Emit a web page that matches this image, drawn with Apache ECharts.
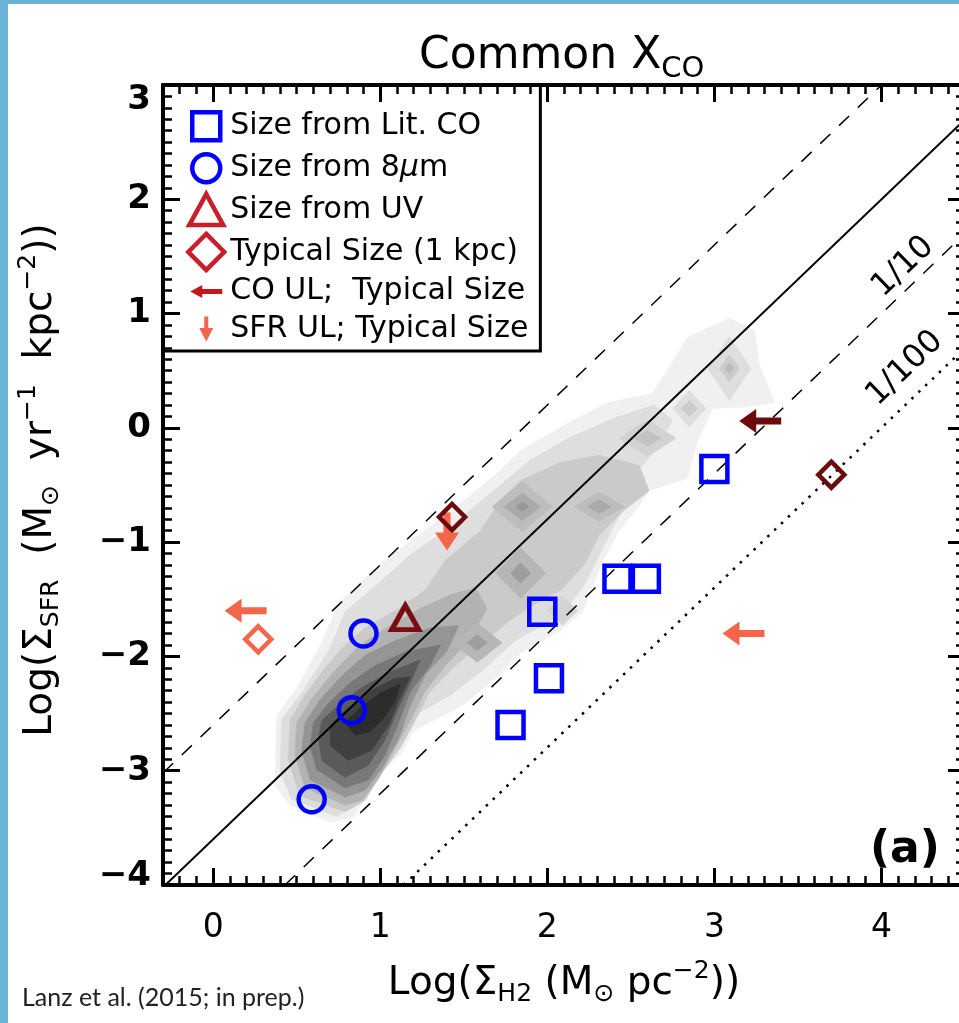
<!DOCTYPE html>
<html>
<head>
<meta charset="utf-8">
<title>Common XCO</title>
<script src="https://cdn.jsdelivr.net/npm/echarts@6/dist/echarts.min.js"></script>
<style>
  html, body { margin: 0; padding: 0; background: #fff; }
  #chart { width: 959px; height: 1023px; }
</style>
</head>
<body>
<div id="chart"></div>
<script>
// ---- data (log units) ----
const xMajorTicks = [0, 1, 2, 3, 4];
const yMajorTicks = [-4, -3, -2, -1, 0, 1, 2, 3];

const litCO = [[3.00, -0.36], [2.42, -1.32], [2.59, -1.32], [1.97, -1.61], [2.01, -2.19], [1.78, -2.60]];
const size8um = [[0.90, -1.80], [0.83, -2.47], [0.59, -3.25]];
const sizeUV = [[1.15, -1.66]];
// third field: colour class of the point
const typicalSize = [[1.43, -0.78, 'dark'], [3.70, -0.41, 'dark'], [0.27, -1.85, 'light']];
const coUpperLimits = [[0.32, -1.60, 'light'], [3.30, -1.80, 'light'], [3.40, 0.06, 'dark']];
const sfrUpperLimits = [[1.40, -0.74, 'light']];

// Kennicutt-Schmidt relation and x10, 1/10, 1/100 offsets
const ksLine = [[-0.3, -4.02], [4.5, 2.70]];
const ksTimes10 = [[-0.3, -3.02], [4.0, 3.00]];
const ksTenth = [[0.43, -4.00], [4.5, 1.70]];
const ksHundredth = [[1.14, -4.00], [4.5, 0.70]];

const ratioLabels = [['1/10', 4.13, 1.41], ['1/100', 4.14, 0.52]];
const panelLabel = [['(a)', 4.14, -3.70]];

// comparison sample density, filled contour levels (outer to inner)
const contourLevels = [
  [[0.70,-3.45],[0.46,-3.30],[0.37,-3.13],[0.38,-2.52],[0.50,-2.28],[0.65,-1.88],[0.75,-1.54],[0.94,-1.27],[1.08,-1.10],[1.32,-0.84],[1.54,-0.59],[1.70,-0.40],[1.84,-0.20],[2.12,0.04],[2.36,0.22],[2.63,0.30],[2.84,0.79],[3.09,0.96],[3.24,0.85],[3.27,0.55],[3.36,0.22],[3.18,0.18],[2.99,0.17],[2.90,-0.11],[2.84,-0.44],[2.61,-0.55],[2.55,-0.68],[2.43,-0.90],[2.32,-1.20],[2.21,-1.61],[2.08,-1.77],[1.84,-1.97],[1.68,-2.21],[1.48,-2.44],[1.20,-2.65],[1.13,-2.84],[1.00,-3.02],[0.90,-3.26],[0.84,-3.41]],
  [[0.74,-3.40],[0.47,-3.25],[0.40,-3.00],[0.41,-2.55],[0.53,-2.32],[0.70,-1.93],[0.79,-1.61],[0.99,-1.36],[1.18,-1.11],[1.39,-0.90],[1.72,-0.50],[1.90,-0.28],[2.14,-0.08],[2.39,0.08],[2.64,0.20],[2.75,0.07],[2.67,-0.15],[2.55,-0.37],[2.46,-0.68],[2.34,-1.03],[2.22,-1.38],[2.08,-1.64],[1.81,-1.86],[1.63,-2.10],[1.42,-2.34],[1.15,-2.56],[1.07,-2.78],[0.94,-2.95],[0.86,-3.30]],
  [[0.79,-3.36],[0.52,-3.22],[0.45,-2.91],[0.46,-2.56],[0.55,-2.34],[0.67,-2.10],[0.79,-1.90],[0.91,-1.75],[1.09,-1.60],[1.27,-1.42],[1.39,-1.16],[1.60,-0.90],[1.72,-0.63],[1.84,-0.46],[2.08,-0.30],[2.31,-0.24],[2.55,-0.33],[2.61,-0.55],[2.46,-0.72],[2.31,-0.94],[2.22,-1.20],[2.08,-1.42],[1.96,-1.51],[1.78,-1.68],[1.63,-1.86],[1.45,-2.08],[1.30,-2.30],[1.21,-2.56],[1.12,-2.80],[1.00,-3.04],[0.91,-3.26]],
  [[0.79,-3.30],[0.55,-3.15],[0.49,-2.86],[0.50,-2.58],[0.59,-2.37],[0.73,-2.12],[0.88,-1.90],[1.06,-1.73],[1.24,-1.58],[1.42,-1.46],[1.57,-1.40],[1.64,-1.58],[1.53,-1.86],[1.39,-2.08],[1.27,-2.30],[1.18,-2.56],[1.09,-2.80],[0.99,-3.07],[0.89,-3.26]],
  [[0.79,-3.23],[0.58,-3.08],[0.53,-2.82],[0.55,-2.58],[0.64,-2.38],[0.77,-2.17],[0.91,-1.99],[1.09,-1.86],[1.30,-1.75],[1.47,-1.73],[1.40,-1.95],[1.27,-2.16],[1.18,-2.43],[1.11,-2.72],[1.01,-2.98],[0.91,-3.17]],
  [[0.79,-3.15],[0.62,-2.99],[0.58,-2.78],[0.60,-2.58],[0.69,-2.41],[0.82,-2.23],[0.97,-2.08],[1.15,-1.96],[1.36,-1.90],[1.29,-2.10],[1.18,-2.31],[1.11,-2.58],[1.03,-2.86],[0.93,-3.08]],
  [[0.79,-3.06],[0.65,-2.91],[0.63,-2.72],[0.65,-2.56],[0.75,-2.43],[0.88,-2.28],[1.05,-2.14],[1.24,-2.03],[1.18,-2.23],[1.11,-2.45],[1.03,-2.73],[0.93,-2.95]],
  [[0.81,-2.91],[0.70,-2.78],[0.70,-2.60],[0.79,-2.47],[0.93,-2.31],[1.09,-2.19],[1.18,-2.18],[1.12,-2.36],[1.05,-2.60],[0.95,-2.82]],
  [[0.85,-2.69],[0.79,-2.58],[0.88,-2.45],[1.00,-2.32],[1.12,-2.24],[1.09,-2.39],[1.02,-2.54],[0.94,-2.66]]
];
// local density peaks: [x, y, half width, half height]
const densityPeaks = [
  [3.09, 0.52, 0.13, 0.28], [3.09, 0.52, 0.06, 0.12], [3.09, 0.52, 0.025, 0.05],
  [2.85, 0.17, 0.10, 0.16], [2.85, 0.17, 0.05, 0.07],
  [2.60, -0.09, 0.17, 0.16], [2.60, -0.09, 0.08, 0.07],
  [1.85, -0.69, 0.18, 0.22], [1.85, -0.69, 0.11, 0.12], [1.85, -0.69, 0.04, 0.045],
  [2.31, -0.69, 0.15, 0.13], [2.31, -0.69, 0.07, 0.06],
  [1.84, -1.27, 0.15, 0.22], [1.84, -1.27, 0.06, 0.09],
  [1.58, -1.88, 0.15, 0.17], [1.58, -1.88, 0.06, 0.07],
  [2.09, -1.60, 0.09, 0.13]
];

// ---- styles ----
const FONT = '"DejaVu Sans", sans-serif';
const BLUE = '#0000ff';
const LEGEND_RED = '#c8202a';
const pointColor = { dark: '#6c0a0c', light: '#f4664a' };
const contourFills = ['#f0f0f0', '#dedede', '#cacaca', '#b2b2b2', '#959595', '#787878', '#5a5a5a', '#404040', '#2c2c2c'];
const peakFills = ['#dedede', '#cccccc', '#bcbcbc', '#dedede', '#cccccc', '#d2d2d2', '#c2c2c2',
  '#bdbdbd', '#aaaaaa', '#999999', '#bdbdbd', '#aaaaaa', '#b6b6b6', '#9e9e9e', '#b6b6b6', '#9e9e9e', '#d4d4d4'];

const LEFT_ARROW = 'path://M0 12L17 0L17 8.5L42 8.5L42 15.5L17 15.5L17 24Z';
const DOWN_ARROW = 'path://M12 38L0 20L8.5 20L8.5 0L15.5 0L15.5 20L24 20Z';

function minorValues(lo, hi) {
  const out = [];
  for (let i = Math.round(lo * 10); i <= Math.round(hi * 10); i++) out.push(i / 10);
  return out;
}
const xMinor = minorValues(-0.3, 4.5);
const yMinor = minorValues(-4, 3);

const richScript = {
  sub: { fontSize: 25, fontFamily: FONT, padding: [22, 0, 0, 0] },
  sup: { fontSize: 25, fontFamily: FONT, padding: [0, 0, 24, 0] }
};

function axisSet(dim, position, majors, minors, withLabels) {
  const range = dim === 'x' ? { min: -0.3, max: 4.5 } : { min: -4, max: 3 };
  const base = Object.assign({ type: 'value', gridIndex: 0, position, splitLine: { show: false } }, range);
  const major = Object.assign({}, base, {
    axisLine: { show: true, onZero: false, lineStyle: { color: '#000', width: 4 } },
    axisTick: { show: true, inside: true, length: 17, customValues: majors, lineStyle: { color: '#000', width: 3 } },
    axisLabel: { show: false }
  });
  const minor = Object.assign({}, base, {
    axisLine: { show: false, onZero: false },
    axisTick: { show: true, inside: true, length: 9, customValues: minors, lineStyle: { color: '#000', width: 2.5 } },
    axisLabel: { show: false }
  });
  if (withLabels) {
    major.axisLabel = dim === 'x'
      ? { show: true, customValues: majors, margin: 27, fontSize: 33, color: '#000', fontFamily: FONT }
      : {
          show: true, customValues: majors, margin: 12, fontSize: 34, fontWeight: 'bold', color: '#000', fontFamily: FONT,
          formatter: v => {
            const t = v < 0 ? '\u2212' + Math.abs(v) : String(v);
            if (v === 3) return '{top|' + t + '}';
            if (v === -4) return '{bot|' + t + '}';
            return t;
          },
          rich: {
            top: { fontSize: 34, fontWeight: 'bold', fontFamily: FONT, padding: [30, 0, 0, 0] },
            bot: { fontSize: 34, fontWeight: 'bold', fontFamily: FONT, padding: [0, 0, 18, 0] }
          }
        };
  }
  return [major, minor];
}

const xAxes = axisSet('x', 'bottom', xMajorTicks, xMinor, true).concat(axisSet('x', 'top', xMajorTicks, xMinor, false));
const yAxes = axisSet('y', 'left', yMajorTicks, yMinor, true).concat(axisSet('y', 'right', yMajorTicks, yMinor, false));

Object.assign(xAxes[0], {
  name: 'Log(\u03a3{sub|H2} (M{sub|\u2299} pc{sup|\u22122}))',
  nameLocation: 'middle', nameGap: 74, nameMoveOverlap: false,
  nameTextStyle: { fontSize: 39, color: '#000', fontFamily: FONT, rich: richScript }
});
Object.assign(yAxes[0], {
  name: 'Log(\u03a3{sub|SFR}  (M{sub|\u2299}  yr{sup|\u22121}  kpc{sup|\u22122}))',
  nameLocation: 'middle', nameGap: 98, nameMoveOverlap: false,
  nameTextStyle: { fontSize: 39, color: '#000', fontFamily: FONT, rich: richScript, padding: [0, 0, 0, 10] }
});

function polygonRenderer(list, fills, toPoints) {
  return (params, api) => ({
    type: 'polygon',
    shape: { points: toPoints(list[params.dataIndex]).map(p => api.coord(p)) },
    style: { fill: fills[params.dataIndex], stroke: fills[params.dataIndex], lineWidth: 0.6 }
  });
}

const hollow = (color, width) => ({ color: 'rgba(0,0,0,0)', borderColor: color, borderWidth: width, opacity: 1 });
const solid = color => ({ color, borderWidth: 0, opacity: 1 });
const textLayer = (rows, size, weight, rotate) => rows.map(r => ({
  value: [r[1], r[2]], name: r[0],
  label: { show: true, position: 'inside', formatter: '{b}', rotate, fontSize: size, fontWeight: weight, color: '#000', fontFamily: FONT }
}));

const option = {
  animation: false,
  backgroundColor: '#fff',
  title: [
    {
      text: 'Common X{sub|CO}', left: 414, top: 24,
      textStyle: { fontSize: 44, fontWeight: 'normal', color: '#000', fontFamily: FONT,
        rich: { sub: { fontSize: 29, fontFamily: FONT, padding: [26, 0, 0, 0] } } }
    },
    {
      text: 'Lanz et al. (2015; in prep.)', left: 17, top: 980,
      textStyle: { fontSize: 25, fontWeight: 'normal', color: '#222', fontFamily: 'Lato, "Open Sans", sans-serif' }
    }
  ],
  graphic: [
    { type: 'rect', left: 0, top: 0, shape: { width: 8, height: 1023 }, style: { fill: '#6bb3d6' }, z: 100 },
    { type: 'rect', left: 0, top: 0, shape: { width: 959, height: 4 }, style: { fill: '#6bb3d6' }, z: 100 }
  ],
  grid: { left: 163, top: 85, width: 802, height: 800, containLabel: false, outerBoundsMode: 'none' },
  xAxis: xAxes,
  yAxis: yAxes,
  legend: {
    orient: 'vertical', left: 163, top: 85, selectedMode: false,
    itemWidth: 38, itemHeight: 38, itemGap: -0.6, itemTextGap: 5,
    padding: [20, 12, 3, 22], borderColor: '#000', borderWidth: 3, backgroundColor: 'rgba(0,0,0,0)',
    textStyle: { fontFamily: FONT, fontSize: 30, lineHeight: 36, color: '#000',
      rich: { mu: { fontFamily: FONT, fontSize: 30, lineHeight: 36, fontStyle: 'italic' } } },
    formatter: name => name.replace('\u03bc', '{mu|\u03bc}'),
    data: [
      { name: 'Size from Lit. CO', icon: 'path://M0 0M38 38M5 5L33 5L33 33L5 33Z', itemStyle: hollow(BLUE, 4.5) },
      { name: 'Size from 8\u03bcm', icon: 'path://M0 0M38 38M5 19A14 14 0 1 0 33 19A14 14 0 1 0 5 19Z', itemStyle: hollow(BLUE, 4.5) },
      { name: 'Size from UV', icon: 'path://M0 0M38 38M19 3L36 34L2 34Z', itemStyle: hollow(LEGEND_RED, 4.5) },
      { name: 'Typical Size (1 kpc)', icon: 'path://M0 0M38 38M19 1L37 19L19 37L1 19Z', itemStyle: hollow(LEGEND_RED, 4.5) },
      { name: 'CO UL;  Typical Size', icon: 'path://M0 0M38 38M3 19L15 12.5L15 16.5L35 16.5L35 21.5L15 21.5L15 25.5Z', itemStyle: solid('#c4161c') },
      { name: 'SFR UL; Typical Size', icon: 'path://M0 0M38 38M19 31.5L12 18L17 18L17 6.5L21 6.5L21 18L26 18Z', itemStyle: solid('#f4664a') }
    ]
  },
  series: [
    {
      type: 'custom', silent: true, clip: true, z: 1,
      data: contourLevels.map((p, i) => [i]),
      renderItem: polygonRenderer(contourLevels, contourFills, pts => pts)
    },
    {
      type: 'custom', silent: true, clip: true, z: 1,
      data: densityPeaks.map((p, i) => [i]),
      renderItem: polygonRenderer(densityPeaks, peakFills,
        p => [[p[0] - p[2], p[1]], [p[0], p[1] + p[3]], [p[0] + p[2], p[1]], [p[0], p[1] - p[3]]])
    },
    { type: 'line', data: ksLine, symbol: 'none', silent: true, z: 3, lineStyle: { color: '#000', width: 2 } },
    { type: 'line', data: ksTimes10, symbol: 'none', silent: true, z: 3, lineStyle: { color: '#000', width: 1.5, type: [14, 12] } },
    { type: 'line', data: ksTenth, symbol: 'none', silent: true, z: 3, lineStyle: { color: '#000', width: 1.5, type: [14, 12] } },
    { type: 'line', data: ksHundredth, symbol: 'none', silent: true, z: 3, lineStyle: { color: '#000', width: 2.5, type: [2.5, 7] } },
    {
      name: 'Size from Lit. CO', type: 'scatter', data: litCO, symbol: 'rect', symbolSize: 26,
      itemStyle: hollow(BLUE, 4.5), silent: true, z: 5
    },
    {
      name: 'Size from 8\u03bcm', type: 'scatter', data: size8um, symbol: 'circle', symbolSize: 26,
      itemStyle: hollow(BLUE, 4.5), silent: true, z: 5
    },
    {
      name: 'Size from UV', type: 'scatter', data: sizeUV, symbol: 'triangle', symbolSize: [27, 24],
      itemStyle: hollow('#7a0d12', 5), silent: true, z: 5
    },
    {
      name: 'Typical Size (1 kpc)', type: 'scatter', symbol: 'diamond', symbolSize: 26, silent: true, z: 6,
      data: typicalSize.map(d => ({ value: [d[0], d[1]], itemStyle: hollow(pointColor[d[2]], 4.5) }))
    },
    {
      name: 'CO UL;  Typical Size', type: 'scatter', symbol: LEFT_ARROW, symbolSize: [42, 24], symbolOffset: [-21, 0],
      silent: true, z: 5,
      data: coUpperLimits.map(d => ({ value: [d[0], d[1]], itemStyle: solid(pointColor[d[2]]) }))
    },
    {
      name: 'SFR UL; Typical Size', type: 'scatter', symbol: DOWN_ARROW, symbolSize: [24, 38], symbolOffset: [0, 19],
      silent: true, z: 5,
      data: sfrUpperLimits.map(d => ({ value: [d[0], d[1]], itemStyle: solid(pointColor[d[2]]) }))
    },
    {
      type: 'scatter', symbolSize: 0, silent: true, z: 7, itemStyle: { opacity: 1 },
      data: textLayer(ratioLabels, 32, 'normal', 44).concat(textLayer(panelLabel, 44, 'bold', 0))
    }
  ]
};

const chart = echarts.init(document.getElementById('chart'));
chart.setOption(option);
</script>
</body>
</html>
